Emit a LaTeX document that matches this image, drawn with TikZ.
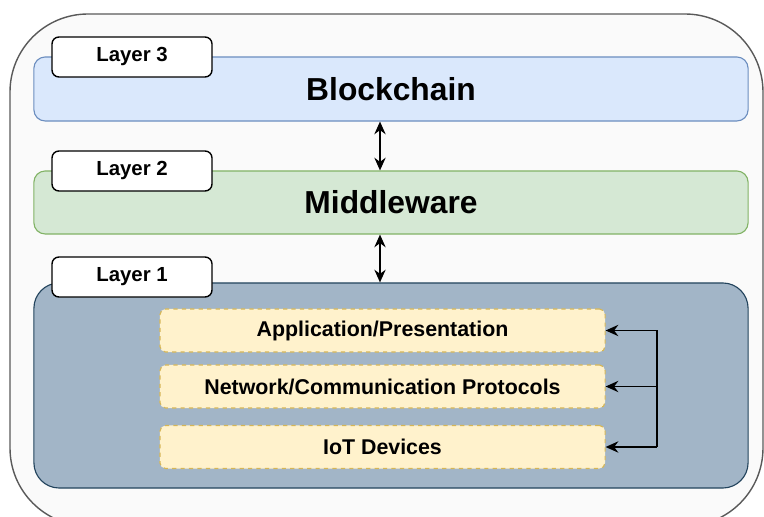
\documentclass[tikz,border=0pt]{standalone}
\usepackage{fontspec}
\setmainfont{Liberation Sans}
\usetikzlibrary{positioning}
\usetikzlibrary{arrows.meta}
\usetikzlibrary{calc}
\usepackage{xcolor}

\definecolor{chainfill}{HTML}{DAE8FC}
\definecolor{chainline}{HTML}{6C8EBF}
\definecolor{midfill}{HTML}{D5E8D4}
\definecolor{midline}{HTML}{82B366}
\definecolor{devfill}{HTML}{A2B5C7}
\definecolor{devline}{HTML}{23445D}
\definecolor{subfill}{HTML}{FFF2CC}
\definecolor{subline}{HTML}{D6B656}

\begin{document}
\begin{tikzpicture}[
  x=0.025cm, y=-0.025cm,
  layerbox/.style={draw, rounded corners=8pt, minimum width=17.85cm, line width=0.8pt},
  tag/.style={draw=black, fill=white, rounded corners=5pt, minimum width=4cm, minimum height=1cm, line width=1pt, font=\fontsize{14.5}{17}\selectfont\bfseries},
  sub/.style={draw=subline, fill=subfill, dashed, line width=0.8pt, rounded corners=4pt, minimum width=11.125cm, minimum height=1.075cm, font=\fontsize{15.2}{18}\selectfont\bfseries},
  big/.style={font=\fontsize{22.6}{27}\selectfont\bfseries},
  arrow/.style={-{Stealth[length=9pt,width=8pt]}, line width=1.4pt},
  twoway/.style={{Stealth[length=9pt,width=8pt]}-{Stealth[length=9pt,width=8pt]}, line width=1.4pt}
]

\useasboundingbox (0,0) rectangle (764,517);
\clip (0,0) rectangle (764,517);

% Outer frame
\draw[black!65, fill=black!2, line width=1pt, rounded corners=1.95cm] (10,14) rectangle (763,526);

% Layer boxes
\node[layerbox, big, draw=chainline, fill=chainfill, minimum height=1.6cm] (chain) at (391,89) {Blockchain};
\node[layerbox, big, draw=midline, fill=midfill, minimum height=1.575cm] (mid) at (391,202.5) {Middleware};
\node[layerbox, draw=devline, fill=devfill, rounded corners=18pt, minimum height=5.125cm] (dev) at (391,385.5) {};

% Layer tags
\node[tag] (tag3) at (132,57) {Layer 3};
\node[tag] (tag2) at (132,171) {Layer 2};
\node[tag] (tag1) at (132,277) {Layer 1};

% Sub layers of layer 1
\node[sub] (app) at (382.5,330.5) {Application/Presentation};
\node[sub] (net) at (382.5,386.5) {Network/Communication Protocols};
\node[sub] (iot) at (382.5,447) {IoT Devices};

% Links between layers
\draw[twoway] ([xshift=-0.275cm]chain.south) -- ([xshift=-0.275cm]mid.north);
\draw[twoway] ([xshift=-0.275cm]mid.south) -- ([xshift=-0.275cm]dev.north);

% Bus on the right
\coordinate (bus) at (657,330.5);
\draw[line width=1.4pt] (bus |- app.east) -- (bus |- iot.east);
\foreach \n in {app,net,iot}
  \draw[arrow] (bus |- \n.east) -- (\n.east);

\end{tikzpicture}
\end{document}
